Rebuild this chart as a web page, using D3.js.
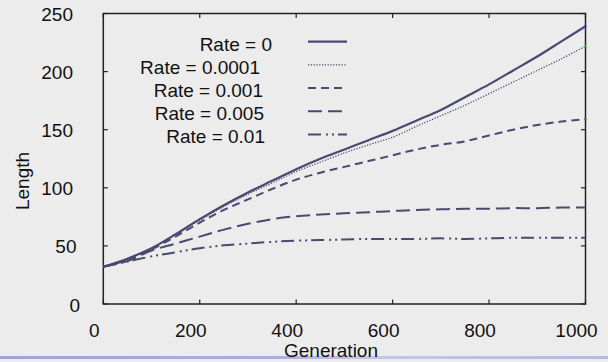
<!DOCTYPE html>
<html>
<head>
<meta charset="utf-8">
<script src="https://cdn.jsdelivr.net/npm/d3@7"></script>
<style>
  html, body { margin: 0; padding: 0; background: #ececec; }
  svg { display: block; font-family: "Liberation Sans", Arial, sans-serif; }
</style>
</head>
<body>
<div id="chart"></div>
<script>
// generations sampled every 50
const generations = [0, 50, 100, 150, 200, 250, 300, 350, 400, 450, 500,
  550, 600, 650, 700, 750, 800, 850, 900, 950, 1000];

const rate0 = [32, 39, 48, 60, 73, 85, 96, 106, 116, 125, 133,
  141, 149, 158, 167, 178, 189, 201, 213, 226, 239];
const rate00001 = [32, 39, 48, 60, 72, 84, 94.5, 104, 114, 122, 130,
  137, 143.5, 153, 162, 171, 181, 191, 201, 211, 222];
const rate0001 = [32, 38, 47, 58, 70, 81, 90, 99, 107, 113, 118,
  123, 128, 133, 137, 140, 145, 150, 154, 157, 159];
const rate0005 = [32, 37, 46, 52, 58, 64, 69, 73, 75.5, 77, 78,
  79, 80, 81, 81.5, 82, 82, 82.5, 82.5, 83, 83];
const rate001 = [32, 36.5, 41, 44.5, 48, 50.5, 52, 53.5, 54.5, 55, 55.5,
  56, 56, 56, 56.5, 56, 56.5, 57, 57, 57, 57];

const legendLabels = ['Rate = 0', 'Rate = 0.0001', 'Rate = 0.001', 'Rate = 0.005', 'Rate = 0.01'];
const xTicks = [0, 200, 400, 600, 800, 1000];
const yTicks = [0, 50, 100, 150, 200, 250];

const width = 608, height = 362;
const lineColor = '#4a4a70';

// line styles per series (legend order)
const styles = [
  { dash: null, w: 2.2 },
  { dash: '1.2,1.6', w: 1.3 },
  { dash: '8,5', w: 2 },
  { dash: '14,6', w: 2 },
  { dash: '13,5,2,4,2,4', w: 2 }
];
const endMarks = ['#2b2bff', '#22cc22', '#e03030', null, null];
const legendRight = [272, 260, 263, 264, 265];

const series = [rate0, rate00001, rate0001, rate0005, rate001];

const svg = d3
  .select('#chart')
  .append('svg')
  .attr('width', width)
  .attr('height', height);

svg.append('rect')
  .attr('width', width)
  .attr('height', height)
  .attr('fill', '#ececec');

// decorative bar at the bottom of the slide
const grad = svg.append('defs').append('linearGradient')
  .attr('id', 'barGrad');
grad.append('stop').attr('offset', '0%').attr('stop-color', '#9ea4d4');
grad.append('stop').attr('offset', '45%').attr('stop-color', '#a9aedb');
grad.append('stop').attr('offset', '60%').attr('stop-color', '#c3c7e6');
grad.append('stop').attr('offset', '100%').attr('stop-color', '#b4b9e0');
svg.append('rect')
  .attr('x', 0)
  .attr('y', 356)
  .attr('width', width)
  .attr('height', 3)
  .attr('fill', 'url(#barGrad)');

const x = d3.scaleLinear().domain([0, 1000]).range([103.3, 585.5]);
const y = d3.scaleLinear().domain([0, 250]).range([304, 13.5]);

// plot frame
svg.append('rect')
  .attr('x', x(0))
  .attr('y', y(250))
  .attr('width', x(1000) - x(0))
  .attr('height', y(0) - y(250))
  .attr('fill', 'none')
  .attr('stroke', '#222')
  .attr('stroke-width', 1.5);

// inward ticks on all four sides
const tickLen = 4.5;
xTicks.forEach(t => {
  svg.append('line')
    .attr('x1', x(t)).attr('x2', x(t))
    .attr('y1', y(0)).attr('y2', y(0) - tickLen)
    .attr('stroke', '#222').attr('stroke-width', 1.2);
  svg.append('line')
    .attr('x1', x(t)).attr('x2', x(t))
    .attr('y1', y(250)).attr('y2', y(250) + tickLen)
    .attr('stroke', '#222').attr('stroke-width', 1.2);
  svg.append('text')
    .attr('x', x(t) - 9)
    .attr('y', 337)
    .attr('text-anchor', 'middle')
    .attr('font-size', 19)
    .attr('fill', '#111')
    .text(t);
});
yTicks.forEach(t => {
  svg.append('line')
    .attr('x1', x(0)).attr('x2', x(0) + tickLen)
    .attr('y1', y(t)).attr('y2', y(t))
    .attr('stroke', '#222').attr('stroke-width', 1.2);
  svg.append('line')
    .attr('x1', x(1000)).attr('x2', x(1000) - tickLen)
    .attr('y1', y(t)).attr('y2', y(t))
    .attr('stroke', '#222').attr('stroke-width', 1.2);
  const s = String(t);
  svg.append('text')
    .attr('x', 73 + (3 - s.length) * 3.5)
    .attr('y', y(t) + 7.5)
    .attr('text-anchor', 'end')
    .attr('font-size', 19)
    .attr('fill', '#111')
    .text(s);
});

// axis titles
svg.append('text')
  .attr('x', 331)
  .attr('y', 357)
  .attr('text-anchor', 'middle')
  .attr('font-size', 19)
  .attr('fill', '#111')
  .text('Generation');
svg.append('text')
  .attr('transform', 'translate(29,181) rotate(-90)')
  .attr('text-anchor', 'middle')
  .attr('font-size', 19)
  .attr('fill', '#111')
  .text('Length');

// curves
const line = d3.line()
  .x((d, i) => x(generations[i]))
  .y(d => y(d))
  .curve(d3.curveCatmullRom.alpha(0.5));

series.forEach((vals, i) => {
  svg.append('path')
    .datum(vals)
    .attr('d', line)
    .attr('fill', 'none')
    .attr('stroke', lineColor)
    .attr('stroke-width', styles[i].w)
    .attr('stroke-dasharray', styles[i].dash);
  if (endMarks[i]) {
    const last = vals.length - 1;
    svg.append('rect')
      .attr('x', x(generations[last]) - 1)
      .attr('y', y(vals[last]) - 1)
      .attr('width', 2)
      .attr('height', 2)
      .attr('fill', endMarks[i]);
  }
});

// legend
legendLabels.forEach((label, i) => {
  const base = 50.5 + i * 23.2;
  svg.append('text')
    .attr('x', legendRight[i])
    .attr('y', base)
    .attr('text-anchor', 'end')
    .attr('font-size', 19)
    .attr('fill', '#111')
    .text(label);
  svg.append('line')
    .attr('x1', 308).attr('x2', 347)
    .attr('y1', base - 8.8).attr('y2', base - 8.8)
    .attr('stroke', lineColor)
    .attr('stroke-width', styles[i].w)
    .attr('stroke-dasharray', styles[i].dash);
});
</script>
</body>
</html>
